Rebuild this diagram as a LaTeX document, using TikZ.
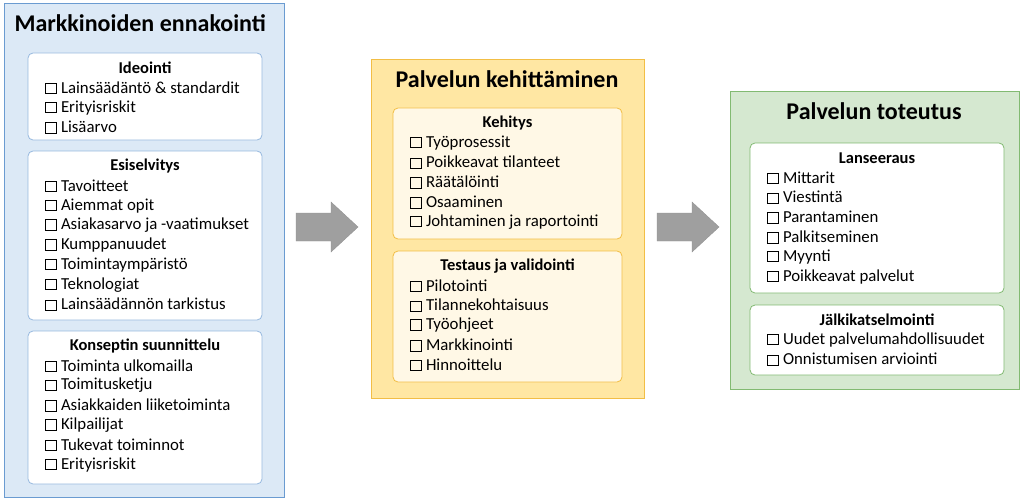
\documentclass[tikz,border=0pt]{standalone}
\usepackage{fontspec}
\setmainfont{Carlito}
\newcommand{\cbx}{{\setlength{\fboxsep}{0pt}\setlength{\fboxrule}{0.9pt}\fbox{\rule{0pt}{9.5pt}\hspace{9.5pt}}}\hspace{4.5pt}}
\begin{document}
\begin{tikzpicture}[x=1pt,y=-1pt,
 panel/.style={draw,line width=1pt},
 inner/.style={draw,line width=0.8pt,rounded corners=5pt},
 ptitle/.style={font=\fontsize{24}{26}\selectfont\bfseries,anchor=center},
 btitle/.style={font=\fontsize{16.5}{18}\selectfont\bfseries,anchor=center},
 item/.style={font=\fontsize{16.8}{18}\selectfont,anchor=west,inner sep=0pt},
 garrow/.style={fill=gray!75,draw=gray!85}]
\useasboundingbox (0,0) rectangle (1024,500);
\definecolor{bluef}{HTML}{DCE9F6}\definecolor{blued}{HTML}{6A9BD1}
\definecolor{yelf}{HTML}{FFE7A3}\definecolor{yeld}{HTML}{F2BE45}\definecolor{yeli}{HTML}{FFF8E6}
\definecolor{grnf}{HTML}{D5E8D0}\definecolor{grnd}{HTML}{82BA72}
% panels
\draw[panel,fill=bluef,draw=blued] (4,4) rectangle (284,497);
\node[ptitle,anchor=west] (t1) at (11,23) {Markkinoiden ennakointi};
\draw[panel,fill=yelf,draw=yeld] (371,60) rectangle (644,398);
\node[ptitle] (t2) at (507,79) {Palvelun kehittäminen};
\draw[panel,fill=grnf,draw=grnd] (730,92) rectangle (1019,389);
\node[ptitle] (t3) at (874,111) {Palvelun toteutus};
% arrows
\draw[garrow] (296,213) -- (331,213) -- (331,202) -- (358,227) -- (331,252) -- (331,241) -- (296,241) -- cycle;
\draw[garrow] (657,213) -- (692,213) -- (692,202) -- (719,227) -- (692,252) -- (692,241) -- (657,241) -- cycle;
% inner boxes
\newcommand{\ibox}[8]{% x1,y1,x2,y2,fill,draw,title,items
 \draw[inner,fill=#5,draw=#6] (#1,#2) rectangle (#3,#4);
 \node[btitle] at ({(#1+#3)/2},#2+15) {#7};
 \foreach \t [count=\i] in {#8} \node[item] at (#1+17,#2+15+\i*19.8) {\cbx\t};}
\ibox{28}{53}{262}{140}{white}{blued!70}{Ideointi}{Lainsäädäntö \& standardit,Erityisriskit,Lisäarvo}
\ibox{28}{151}{262}{320}{white}{blued!70}{Esiselvitys}{Tavoitteet,Aiemmat opit,Asiakasarvo ja -vaatimukset,Kumppanuudet,Toimintaympäristö,Teknologiat,Lainsäädännön tarkistus}
\ibox{28}{331}{262}{484}{white}{blued!70}{Konseptin suunnittelu}{Toiminta ulkomailla,Toimitusketju,Asiakkaiden liiketoiminta,Kilpailijat,Tukevat toiminnot,Erityisriskit}
\ibox{393}{108}{622}{239}{yeli}{yeld}{Kehitys}{Työprosessit,Poikkeavat tilanteet,Räätälöinti,Osaaminen,Johtaminen ja raportointi}
\ibox{393}{251}{622}{382}{yeli}{yeld}{Testaus ja validointi}{Pilotointi,Tilannekohtaisuus,Työohjeet,Markkinointi,Hinnoittelu}
\ibox{750}{143}{1004}{293}{white}{grnd}{Lanseeraus}{Mittarit,Viestintä,Parantaminen,Palkitseminen,Myynti,Poikkeavat palvelut}
\ibox{750}{305}{1004}{375}{white}{grnd}{Jälkikatselmointi}{Uudet palvelumahdollisuudet,Onnistumisen arviointi}
\end{tikzpicture}
\end{document}
